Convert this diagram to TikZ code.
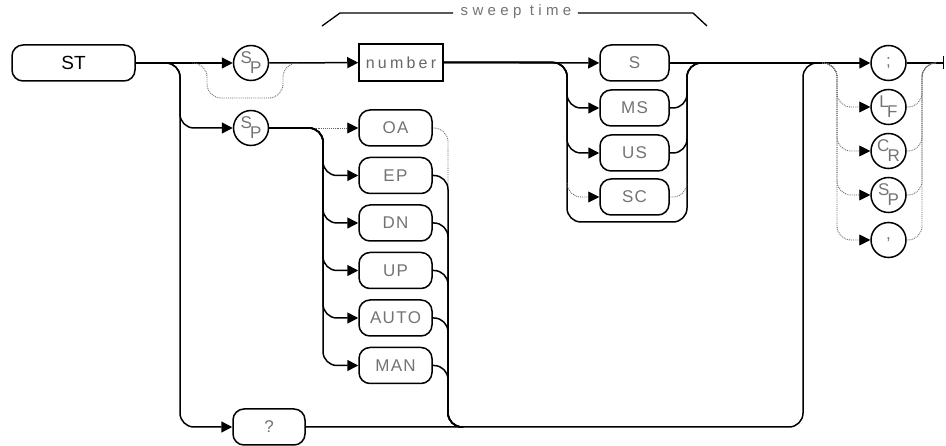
\documentclass[tikz,border=0pt]{standalone}
\usepackage{fontspec}
\setmainfont{Liberation Sans}
\usetikzlibrary{arrows.meta,positioning,calc}

\newcommand{\twolet}[2]{\raisebox{0.5ex}{#1}\kern-0.1em\raisebox{-0.6ex}{#2}}

\begin{document}
\begin{tikzpicture}[x=1pt, y=-1pt,
    pill/.style={draw, line width=1.5pt, rounded corners=11pt, minimum width=71pt, minimum height=36pt, inner sep=0pt, text=black!55, font=\fontsize{17}{17}\selectfont\addfontfeature{LetterSpace=8}},
    circ/.style={draw, circle, line width=1.5pt, minimum size=35pt, inner sep=0pt, text=black!55, font=\fontsize{17}{17}\selectfont},
    nbox/.style={draw, line width=1.5pt, minimum width=84pt, minimum height=37pt, inner sep=0pt, text=black!60, font=\fontsize{16}{16}\selectfont\addfontfeature{LetterSpace=20}},
    ln/.style={line width=1.5pt, rounded corners=14pt},
    fnt/.style={line width=0.9pt, black!60, densely dotted, rounded corners=14pt},
    arr/.style={-{Triangle[length=11pt,width=11pt,color=black]}},
    lbl/.style={text=black!55, font=\fontsize{15}{15}\selectfont\addfontfeature{LetterSpace=29}}
]
\useasboundingbox (0,0) rectangle (946,446);

% command, parameters
\node[pill, minimum width=123pt, text=black, font=\fontsize{19}{19}\selectfont] (st) at (73.5,63) {ST};
\node[circ] (sp1) at (251,63) {\twolet{S}{P}};
\node[circ] (sp2) at (251,128) {\twolet{S}{P}};
\node[pill, minimum width=72pt] (qm) at (269,427) {?};
\node[nbox] (num) at (401,62.5) {number};
\foreach \n/\t/\y in {oa/OA/128, ep/EP/175.5, dn/DN/223, up/UP/270.5, auto/AUTO/318, man/MAN/365.5}
  \node[pill, minimum width=73pt] (\n) at (395.5,\y) {\t};
\foreach \n/\t/\y in {uS/S/63, uMS/MS/108, uUS/US/153, uSC/SC/197}
  \node[pill, minimum width=69pt] (\n) at (634.5,\y) {\t};
\node[circ] (tsc) at (888.5,63) {;};
\node[circ] (tlf) at (888.5,107) {\twolet{L}{F}};
\node[circ] (tcr) at (888.5,151) {\twolet{C}{R}};
\node[circ] (tsp) at (888.5,195) {\twolet{S}{P}};
\node[circ] (tcm) at (888.5,240) {,};

% sweep time bracket
\node[lbl] (swt) at (516,12) {sweep time};
\draw[line width=1.3pt] (322,26) -- (340,13) -- ([xshift=-4pt]swt.west |- 0,13);
\draw[line width=1.3pt] ([xshift=3pt]swt.east |- 0,13) -- (693,13) -- (707,26);

% junctions
\coordinate (jv) at (180,63);
\coordinate (b1) at (192,63);
\coordinate (b2) at (298,63);
\coordinate (mj) at (308,128);
\coordinate (mL) at (323,128);
\coordinate (mR) at (448,128);
\coordinate (uL) at (567,63);
\coordinate (uB) at (567,222);
\coordinate (uR) at (687,63);
\coordinate (rv) at (803,63);
\coordinate (tj) at (822,63);
\coordinate (tL) at (837,63);
\coordinate (tR) at (922,63);
\coordinate (fin) at (944,63);

% main line
\draw[ln, arr] (st) -- (sp1);
\draw[ln, arr] (sp1) -- (num);
\draw[ln, arr] (num) -- (uS);
\draw[ln, arr] (uS) -- (tsc);
\draw[ln, -{Bar[width=13pt,line width=1.5pt]}] (tsc) -- (fin);

% optional space
\draw[fnt] (b1) -| ($(b1)+(15,35)$) -| ($(b2)+(-15,0)$) -- (b2);

% query and modes
\draw[ln, arr] (st) -| (jv |- sp2) -- (sp2);
\draw[ln, arr] (st) -| (jv |- qm) -- (qm);
\draw[ln] (sp2) -- (mj);
\draw[fnt, arr] (mj) -- (oa);
\foreach \n in {ep,dn,up,auto,man}
  \draw[ln, arr] (mj) -| (mL |- \n) -- (\n);
\draw[fnt] (oa) -| ($(mR |- ep)+(0,16)$);
\foreach \n in {ep,dn,up,auto,man}
  \draw[ln] (\n) -| (mR |- qm) -- ++(15,0);
\draw[ln] (qm) -| (rv) -- ++(15,0);

% units
\draw[ln, arr] (num) -| (uL |- uMS) -- (uMS);
\draw[ln, arr] (num) -| (uL |- uUS) -- (uUS);
\draw[ln] (num) -| (uB) -| (uR) -- ++(15,0);
\draw[fnt, arr] ($(uL |- uSC)+(0,-14)$) |- (uSC);
\draw[ln] (uMS) -| (uR) -- ++(15,0);
\draw[ln] (uUS) -| (uR) -- ++(15,0);
\draw[fnt] (uSC) -| ($(uR |- uSC)+(0,-14)$);

% terminators
\foreach \n in {tlf,tcr,tsp,tcm} {
  \draw[fnt, arr] (tj) -| (tL |- \n) -- (\n);
  \draw[fnt] (\n) -| (tR) -- ++(13,0);
}
\end{tikzpicture}
\end{document}
